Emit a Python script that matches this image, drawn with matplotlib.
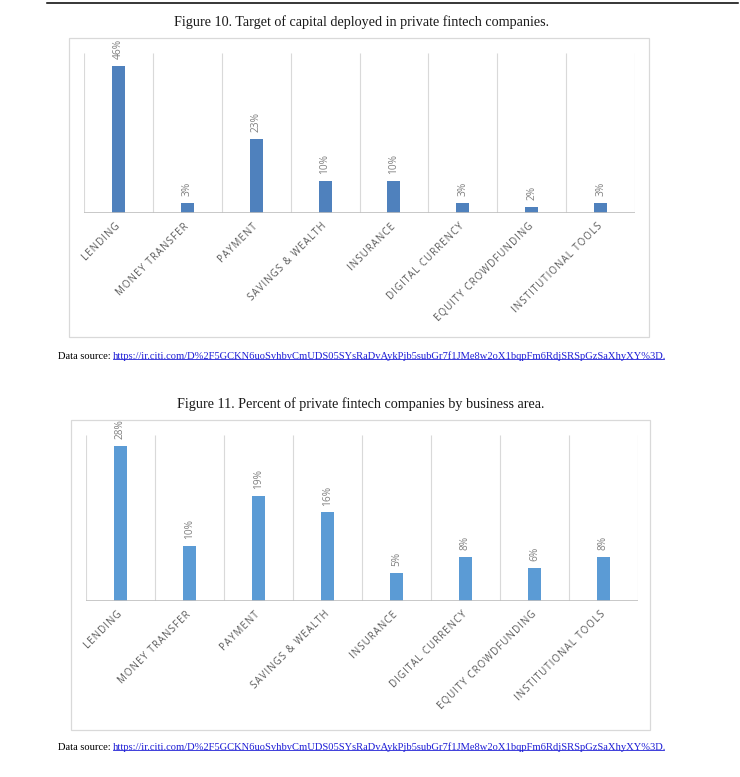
import matplotlib
matplotlib.use("Agg")
import matplotlib.pyplot as plt
import matplotlib.transforms as mtransforms
from matplotlib.patches import Rectangle
from matplotlib.lines import Line2D

# data
categories = ["LENDING", "MONEY TRANSFER", "PAYMENT", "SAVINGS & WEALTH",
              "INSURANCE", "DIGITAL CURRENCY", "EQUITY CROWDFUNDING",
              "INSTITUTIONAL TOOLS"]
capital_pct = [46, 3, 23, 10, 10, 3, 2, 3]
companies_pct = [28, 10, 19, 16, 5, 8, 6, 8]

title_10 = "Figure 10. Target of capital deployed in private fintech companies."
title_11 = "Figure 11. Percent of private fintech companies by business area."
source_label = "Data source: "
source_url = ("https://ir.citi.com/D%2F5GCKN6uoSvhbvCmUDS05SYsRaDvAykPjb5subGr7f1JMe8w2oX1bqpFm6RdjSRSpGzSaXhyXY%3D")

W, H = 740, 777
SERIF = ["Liberation Serif", "DejaVu Serif"]
SANS = ["Open Sans", "DejaVu Sans"]


def fx(px):
    return px / W


def fy(py):
    return 1 - py / H


def spaced(s):
    return "\u200a".join(s)


def draw_chart(fig, rect_px, box_px, values, ymax, color):
    x0, y0, x1, y1 = rect_px
    ax = fig.add_axes([fx(x0), fy(y1), fx(x1 - x0), (y1 - y0) / H])
    n = len(values)
    xs = list(range(n))
    ax.bar(xs, values, width=0.19, color=color, zorder=3)
    ax.set_xlim(-0.5, n - 0.5)
    ax.set_ylim(0, ymax)
    ax.vlines([i - 0.5 for i in range(n + 1)], 0, ymax, color="#d9d9d9", lw=0.8, zorder=1)
    ax.axhline(0, color="#bfbfbf", lw=1.2, zorder=4)
    for s in ax.spines.values():
        s.set_visible(False)
    ax.set_xticks([])
    ax.set_yticks([])
    ax.patch.set_alpha(0)

    for i, v in enumerate(values):
        ax.annotate(f"{v}%", (i, v), xytext=(0, 5), textcoords="offset points",
                    rotation=90, ha="center", va="bottom", fontsize=7.3,
                    color="#808080", family=SANS)

    off = mtransforms.offset_copy(ax.transData, fig=fig, x=0, y=-12, units="dots")
    for i, lab in enumerate(categories):
        ax.text(i, 0, spaced(lab), transform=off, rotation=45,
                rotation_mode="anchor", ha="right", va="center",
                fontsize=7.0, color="#595959", family=SANS)

    bx0, by0, bx1, by1 = box_px
    fig.add_artist(Rectangle((fx(bx0), fy(by1)), fx(bx1 - bx0), (by1 - by0) / H,
                             transform=fig.transFigure, fill=False,
                             ec="#d9d9d9", lw=0.9))
    return ax


def draw_source(fig, renderer, x_px, y_px):
    t1 = fig.text(fx(x_px), fy(y_px), source_label, fontsize=7.6, family=SERIF,
                  color="black", va="center", ha="left")
    bb = t1.get_window_extent(renderer)
    t2 = fig.text(bb.x1 / W, fy(y_px), source_url + ".", fontsize=7.6, family=SERIF,
                  color="#1f1fd6", va="center", ha="left")
    bb2 = t2.get_window_extent(renderer)
    uy = bb2.y0 + 1.5
    fig.add_artist(Line2D([bb2.x0 / W, (bb2.x1 - 3) / W], [uy / H, uy / H],
                          transform=fig.transFigure, color="#1f1fd6", lw=0.6))


fig = plt.figure(figsize=(W / 100, H / 100), dpi=100)
fig.patch.set_facecolor("white")

# rule at top of page
fig.add_artist(Line2D([fx(47), fx(738)], [fy(2.5), fy(2.5)], transform=fig.transFigure,
                      color="black", lw=1.1))

fig.text(fx(361), fy(22), title_10, ha="center", va="center", fontsize=10.2,
         family=SERIF, color="#1a1a1a")
draw_chart(fig, (84, 53, 635, 213), (69, 38, 649, 337), capital_pct, 50, "#4f81bd")

fig.text(fx(361), fy(404), title_11, ha="center", va="center", fontsize=10.2,
         family=SERIF, color="#1a1a1a")
draw_chart(fig, (86, 435, 638, 601), (71, 420, 650, 730), companies_pct, 30, "#5b9bd5")

fig.canvas.draw()
renderer = fig.canvas.get_renderer()
draw_source(fig, renderer, 58, 356)
draw_source(fig, renderer, 58, 747)

fig.savefig("out.png", dpi=100)
